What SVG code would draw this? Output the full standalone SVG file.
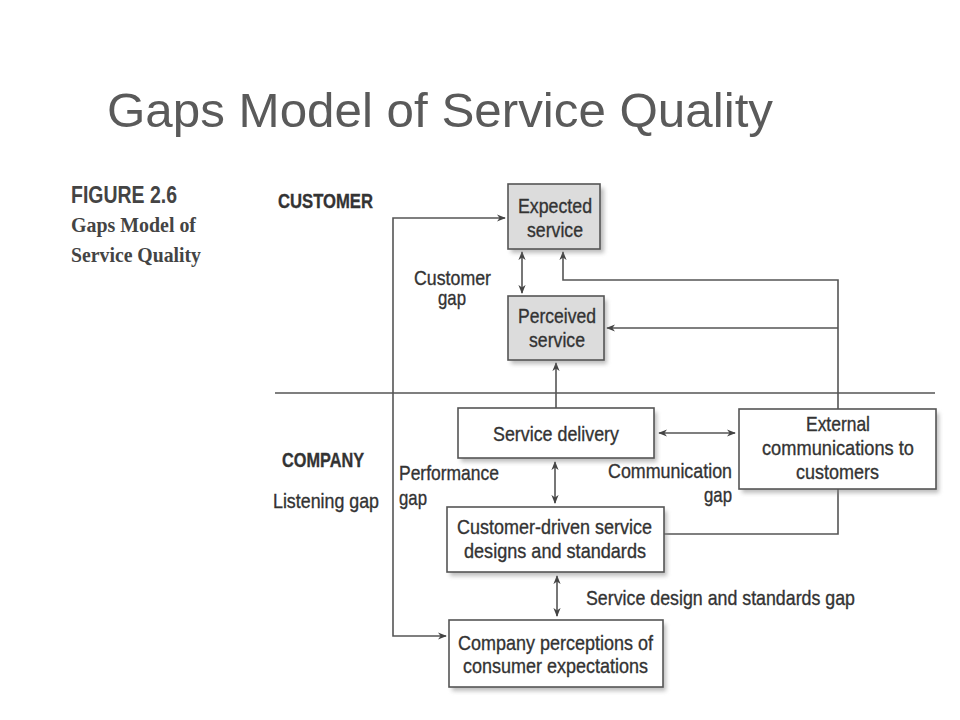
<svg xmlns="http://www.w3.org/2000/svg" width="960" height="720" viewBox="0 0 960 720">
<defs>
<style>
.t{font-family:"Liberation Sans",Arial,sans-serif;font-size:21px;fill:#333;stroke:#333;stroke-width:0.35;}
.b{stroke:#555;stroke-width:1.6;}
.w{fill:#fff;}
.g{fill:#dcdcdc;}
.sh{fill:#888;opacity:0.55;filter:url(#blur);}
.c{fill:none;stroke:#555;stroke-width:1.6;}
.a{marker-end:url(#ah);}
.aa{marker-end:url(#ah);marker-start:url(#ah);}
</style>
<filter id="blur" x="-10%" y="-10%" width="130%" height="140%"><feGaussianBlur stdDeviation="2"/></filter>
<marker id="ah" viewBox="0 0 10 10" refX="9" refY="5" markerWidth="9" markerHeight="9" markerUnits="userSpaceOnUse" orient="auto-start-reverse">
<path d="M0,1 L10,5 L0,9 L3,5 Z" fill="#444"/>
</marker>
</defs>
<rect width="960" height="720" fill="#fff"/>
<text x="107" y="127" font-family="Liberation Sans,Arial,sans-serif" font-size="49" fill="#5a5a5a" textLength="666" lengthAdjust="spacingAndGlyphs">Gaps Model of Service Quality</text>

<g id="caption">
<text x="71" y="203" font-family="Liberation Sans,Arial,sans-serif" font-weight="bold" font-size="24" fill="#444" textLength="106" lengthAdjust="spacingAndGlyphs">FIGURE 2.6</text>
<text x="71" y="232" font-family="Liberation Serif,Times New Roman,serif" font-weight="bold" font-size="22" fill="#444" textLength="125" lengthAdjust="spacingAndGlyphs">Gaps Model of</text>
<text x="71" y="262" font-family="Liberation Serif,Times New Roman,serif" font-weight="bold" font-size="22" fill="#444" textLength="130" lengthAdjust="spacingAndGlyphs">Service Quality</text>
</g>

<g id="section-labels">
<text class="t" x="278" y="208" font-weight="bold" textLength="95" lengthAdjust="spacingAndGlyphs">CUSTOMER</text>
<text class="t" x="282" y="467" font-weight="bold" textLength="82" lengthAdjust="spacingAndGlyphs">COMPANY</text>
<line x1="275" y1="393" x2="935" y2="393" class="c"/>
</g>

<g id="connectors">
<path class="c aa" d="M446,636 H393 V218 H505"/>
<path class="c aa" d="M522,252 V293"/>
<path class="c a" d="M664,534 H838 V280 H563 V252"/>
<path class="c a" d="M838,328 H607"/>
<path class="c a" d="M556,408 V363"/>
<path class="c aa" d="M555,462 V503"/>
<path class="c aa" d="M659,433 H735"/>
<path class="c aa" d="M557,576 V616"/>
</g>

<g id="gap-labels">
<text class="t" x="414" y="285" textLength="77" lengthAdjust="spacingAndGlyphs">Customer</text>
<text class="t" x="438" y="305" textLength="28" lengthAdjust="spacingAndGlyphs">gap</text>
<text class="t" x="273" y="508" textLength="106" lengthAdjust="spacingAndGlyphs">Listening gap</text>
<text class="t" x="399" y="480" textLength="100" lengthAdjust="spacingAndGlyphs">Performance</text>
<text class="t" x="399" y="505" textLength="28" lengthAdjust="spacingAndGlyphs">gap</text>
<text class="t" x="608" y="478" textLength="124" lengthAdjust="spacingAndGlyphs">Communication</text>
<text class="t" x="704" y="502" textLength="28" lengthAdjust="spacingAndGlyphs">gap</text>
<text class="t" x="586" y="605" textLength="269" lengthAdjust="spacingAndGlyphs">Service design and standards gap</text>
</g>

<g id="expected-service">
<rect class="sh" x="511" y="188" width="93" height="65"/>
<rect class="b g" x="508" y="184" width="92" height="65"/>
<text class="t" x="518" y="213" textLength="74" lengthAdjust="spacingAndGlyphs">Expected</text>
<text class="t" x="527" y="237" textLength="56" lengthAdjust="spacingAndGlyphs">service</text>
</g>

<g id="perceived-service">
<rect class="sh" x="511" y="300" width="96" height="64"/>
<rect class="b g" x="508" y="296" width="96" height="64"/>
<text class="t" x="518" y="323" textLength="78" lengthAdjust="spacingAndGlyphs">Perceived</text>
<text class="t" x="529" y="347" textLength="56" lengthAdjust="spacingAndGlyphs">service</text>
</g>

<g id="service-delivery">
<rect class="sh" x="461" y="412" width="196" height="50"/>
<rect class="b w" x="458" y="408" width="196" height="50"/>
<text class="t" x="493" y="441" textLength="126" lengthAdjust="spacingAndGlyphs">Service delivery</text>
</g>

<g id="external-communications">
<rect class="sh" x="742" y="413" width="197" height="80"/>
<rect class="b w" x="739" y="409" width="197" height="80"/>
<text class="t" x="806" y="431" textLength="64" lengthAdjust="spacingAndGlyphs">External</text>
<text class="t" x="762" y="455" textLength="152" lengthAdjust="spacingAndGlyphs">communications to</text>
<text class="t" x="796" y="479" textLength="83" lengthAdjust="spacingAndGlyphs">customers</text>
</g>

<g id="customer-driven-designs">
<rect class="sh" x="450" y="511" width="217" height="65"/>
<rect class="b w" x="447" y="507" width="217" height="65"/>
<text class="t" x="457" y="534" textLength="195" lengthAdjust="spacingAndGlyphs">Customer-driven service</text>
<text class="t" x="464" y="558" textLength="182" lengthAdjust="spacingAndGlyphs">designs and standards</text>
</g>

<g id="company-perceptions">
<rect class="sh" x="452" y="624" width="214" height="67"/>
<rect class="b w" x="449" y="620" width="214" height="67"/>
<text class="t" x="458" y="650" textLength="195" lengthAdjust="spacingAndGlyphs">Company perceptions of</text>
<text class="t" x="463" y="673" textLength="185" lengthAdjust="spacingAndGlyphs">consumer expectations</text>
</g>
</svg>
